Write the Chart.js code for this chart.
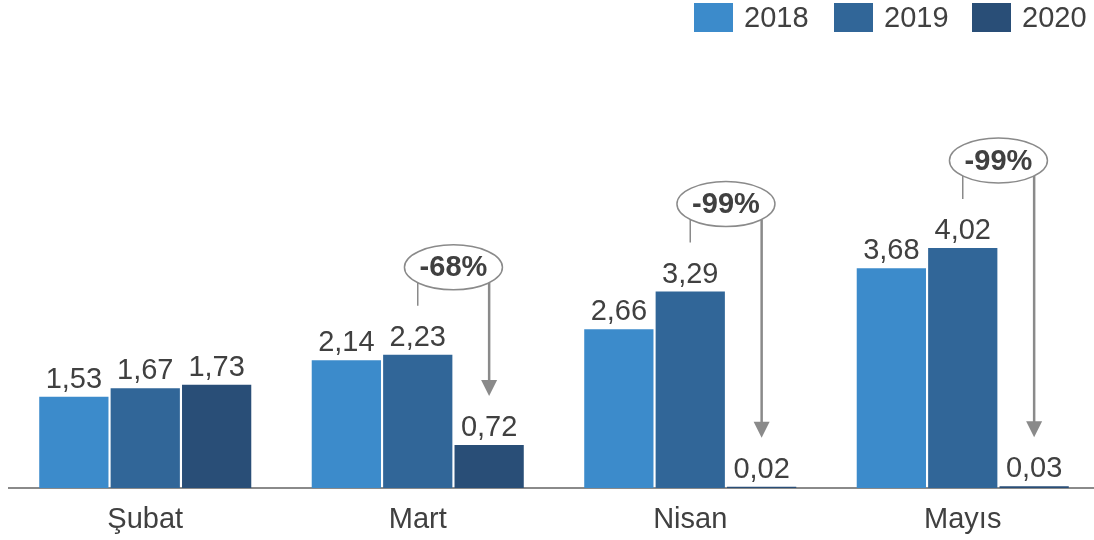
<!DOCTYPE html>
<html>
<head>
<meta charset="utf-8">
<script src="https://cdn.jsdelivr.net/npm/chart.js@4"></script>
<style>
  html, body { margin: 0; padding: 0; background: #fff; overflow: hidden; }
  #wrap { width: 1100px; height: 540px; position: relative; }
</style>
</head>
<body>
<div id="wrap"><canvas id="barChart"></canvas></div>
<script>
const categories = ["Şubat", "Mart", "Nisan", "Mayıs"];
const years = ["2018", "2019", "2020"];
const values2018 = [1.53, 2.14, 2.66, 3.68];
const values2019 = [1.67, 2.23, 3.29, 4.02];
const values2020 = [1.73, 0.72, 0.02, 0.03];
const changes = ["", "-68%", "-99%", "-99%"];
const colors = ["#3c8bcb", "#316698", "#294e77"];

const FONT = "'Liberation Sans', Arial, sans-serif";
const TEXT = "#404040";
const GREY = "#8a8a8a";

// value labels above the bars
const valueLabels = {
  id: "valueLabels",
  afterDatasetsDraw(chart) {
    const ctx = chart.ctx;
    ctx.save();
    ctx.font = "29px " + FONT;
    ctx.fillStyle = TEXT;
    ctx.textAlign = "center";
    ctx.textBaseline = "alphabetic";
    chart.data.datasets.forEach((ds, i) => {
      chart.getDatasetMeta(i).data.forEach((bar, j) => {
        const txt = ds.data[j].toFixed(2).replace(".", ",");
        ctx.fillText(txt, bar.x, bar.y - 9);
      });
    });
    ctx.restore();
  }
};

// ellipse with % change and arrow down to 2020 bar
const changeArrows = {
  id: "changeArrows",
  afterDatasetsDraw(chart) {
    const ctx = chart.ctx;
    const m19 = chart.getDatasetMeta(1).data;
    const m20 = chart.getDatasetMeta(2).data;
    ctx.save();
    changes.forEach((label, j) => {
      if (!label) return;
      const b19 = m19[j], b20 = m20[j];
      const cx = (b19.x + b20.x) / 2;
      const cy = b19.y - 87.5;
      const rx = 49, ry = 22.5;
      const dx = (b20.x - b19.x) / 2;
      const off = ry * Math.sqrt(Math.max(0, 1 - (dx / rx) * (dx / rx)));

      ctx.strokeStyle = GREY;
      ctx.lineWidth = 1.5;
      ctx.beginPath();
      ctx.ellipse(cx, cy, rx, ry, 0, 0, Math.PI * 2);
      ctx.stroke();

      // connector to 2019 label
      ctx.beginPath();
      ctx.moveTo(b19.x, cy + off);
      ctx.lineTo(b19.x, b19.y - 49);
      ctx.stroke();

      // arrow to 2020 bar
      const tip = b20.y - 49;
      ctx.lineWidth = 2.5;
      ctx.beginPath();
      ctx.moveTo(b20.x, cy + off);
      ctx.lineTo(b20.x, tip - 14);
      ctx.stroke();
      ctx.fillStyle = GREY;
      ctx.beginPath();
      ctx.moveTo(b20.x - 8, tip - 16);
      ctx.lineTo(b20.x + 8, tip - 16);
      ctx.lineTo(b20.x, tip);
      ctx.closePath();
      ctx.fill();

      ctx.fillStyle = TEXT;
      ctx.font = "bold 29px " + FONT;
      ctx.textAlign = "center";
      ctx.textBaseline = "middle";
      ctx.fillText(label, cx, cy + 1);
    });
    ctx.restore();
  }
};

// legend at top right
const topLegend = {
  id: "topLegend",
  afterDraw(chart) {
    const ctx = chart.ctx;
    const xs = [694, 834, 972];
    ctx.save();
    ctx.font = "29px " + FONT;
    ctx.textBaseline = "middle";
    ctx.textAlign = "left";
    years.forEach((y, i) => {
      ctx.fillStyle = colors[i];
      ctx.fillRect(xs[i], 3, 39, 29);
      ctx.fillStyle = TEXT;
      ctx.fillText(y, xs[i] + 50, 19);
    });
    ctx.restore();
  }
};

document.addEventListener("DOMContentLoaded", () => {
  const ctx = document.getElementById("barChart").getContext("2d");
  new Chart(ctx, {
    type: "bar",
    data: {
      labels: categories,
      datasets: [
        { label: years[0], data: values2018, backgroundColor: colors[0] },
        { label: years[1], data: values2019, backgroundColor: colors[1] },
        { label: years[2], data: values2020, backgroundColor: colors[2] },
      ],
    },
    options: {
      responsive: true,
      maintainAspectRatio: false,
      animation: false,
      layout: { padding: { left: 9, right: 1, top: 8, bottom: 0 } },
      datasets: {
        bar: { categoryPercentage: 0.786, barPercentage: 0.97 }
      },
      plugins: {
        legend: { display: false },
        tooltip: { enabled: false },
      },
      scales: {
        x: {
          grid: { display: false, drawTicks: false },
          border: { display: true, color: GREY, width: 2 },
          ticks: { color: TEXT, font: { family: FONT, size: 29 }, padding: 15 },
          afterFit(scale) { scale.height = 52; },
        },
        y: {
          display: false,
          min: 0,
          max: 8.04,
        },
      },
    },
    plugins: [valueLabels, changeArrows, topLegend],
  });
});
</script>
</body>
</html>
